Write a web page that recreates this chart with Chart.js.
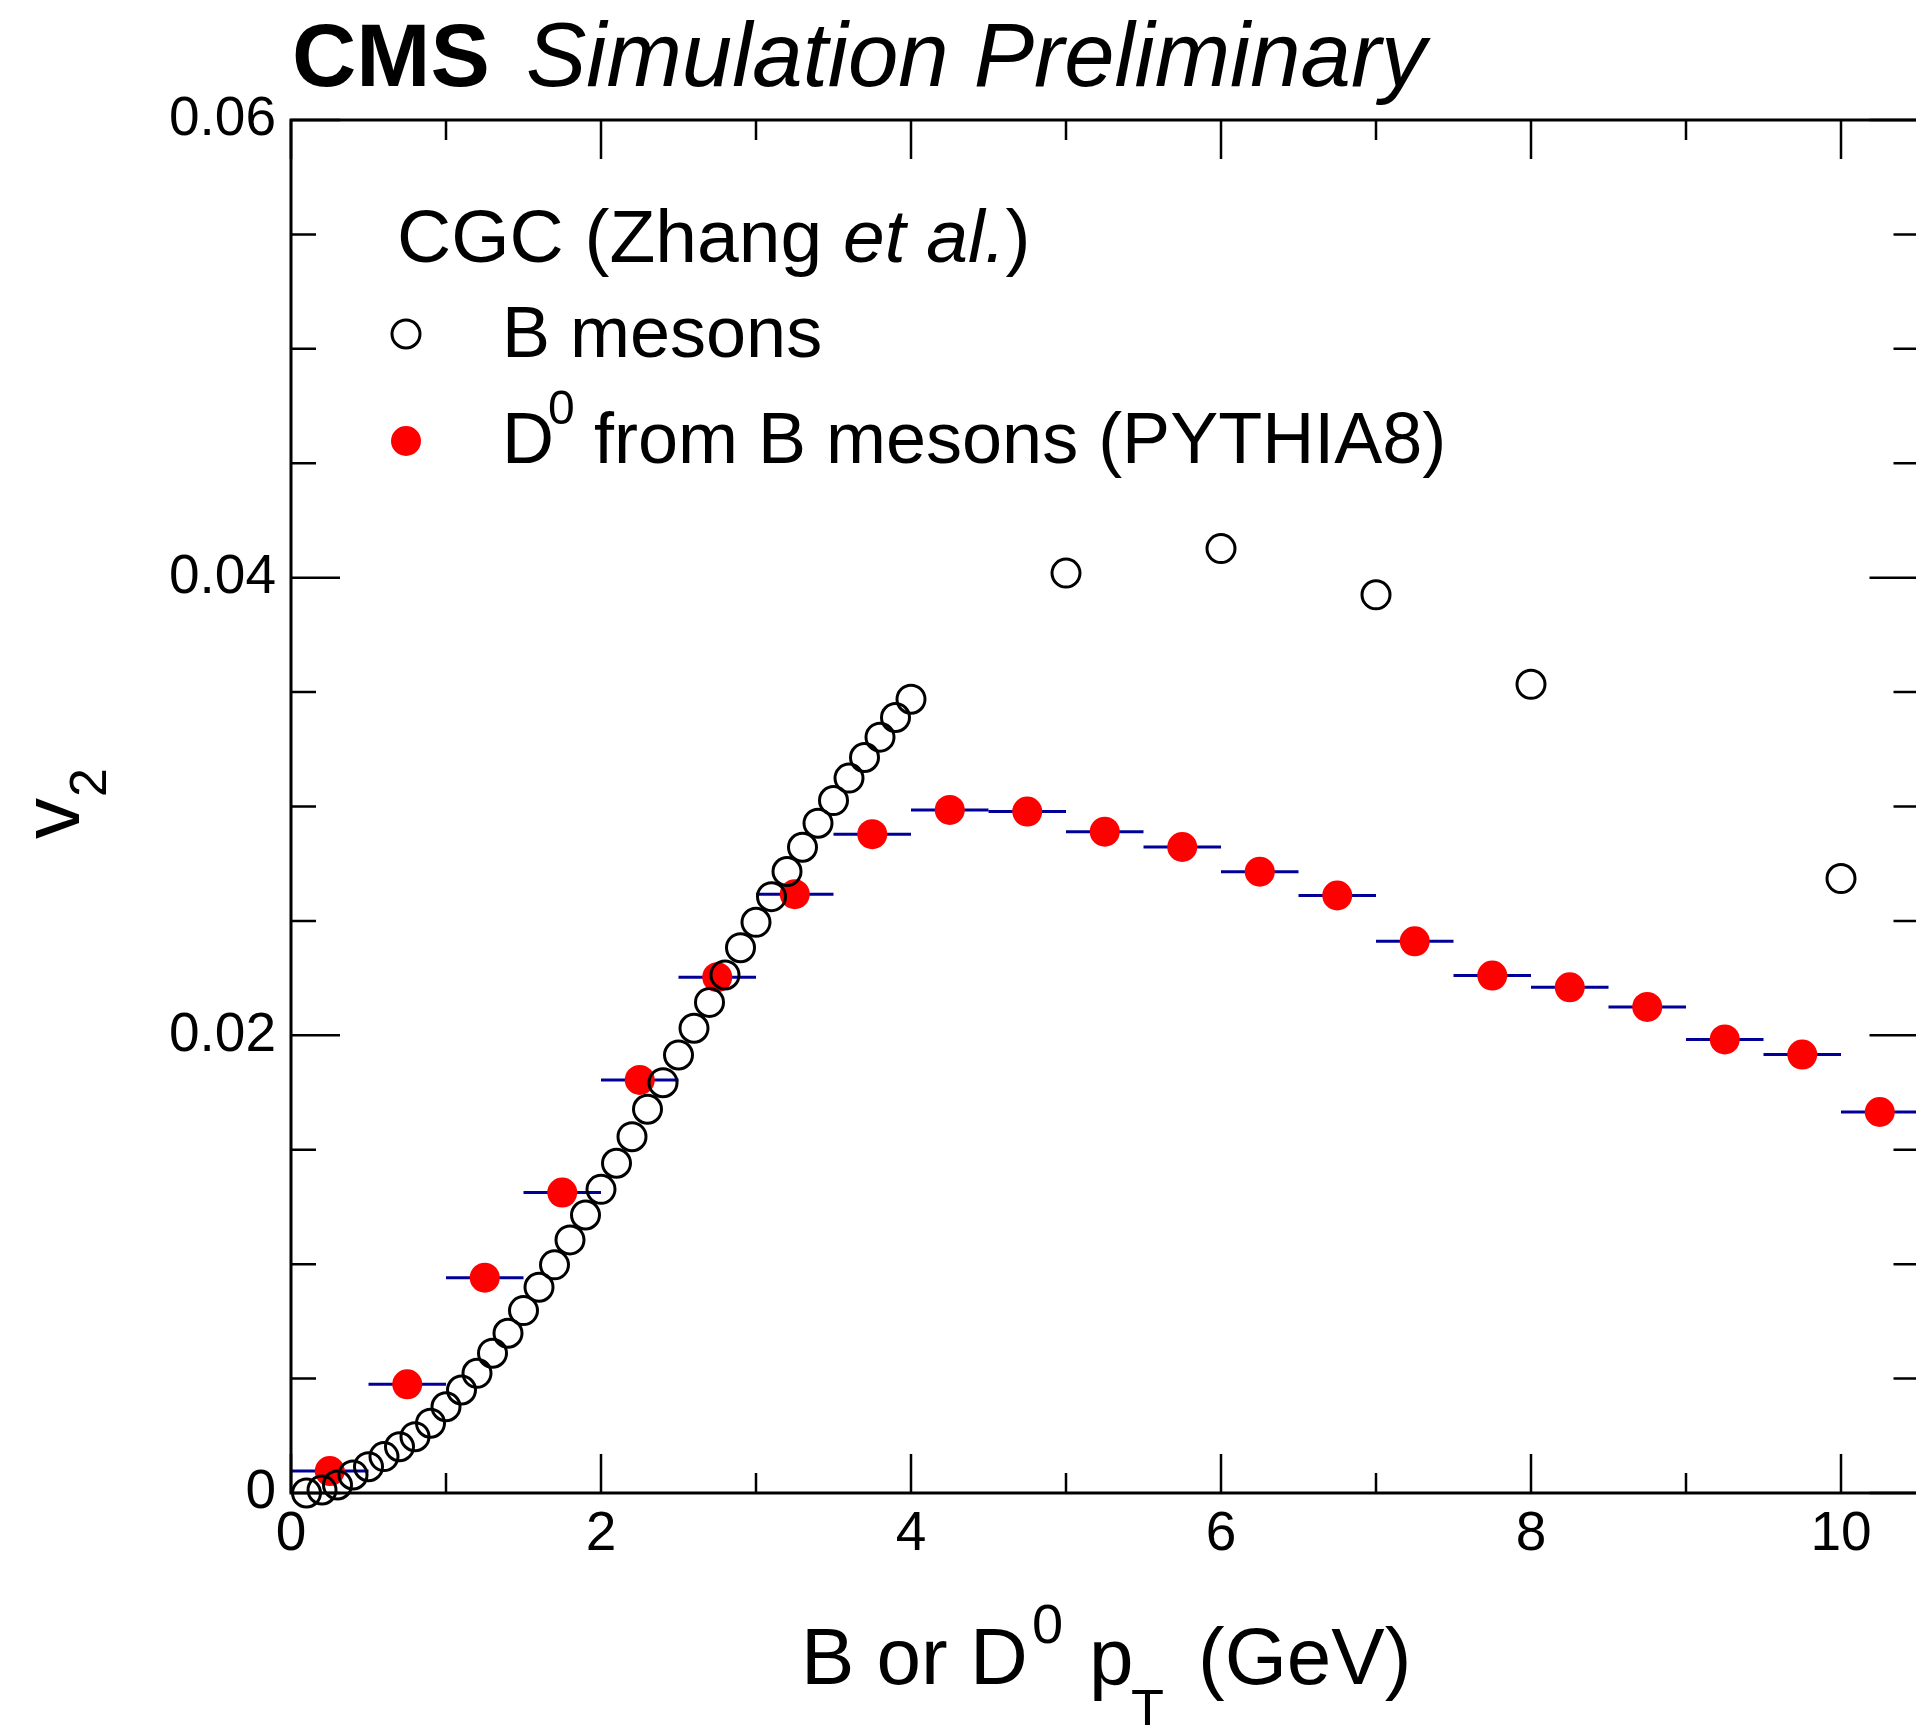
<!DOCTYPE html>
<html>
<head>
<meta charset="utf-8">
<title>B meson v2</title>
<script src="https://cdn.jsdelivr.net/npm/chart.js@4.4.1/dist/chart.umd.min.js"></script>
<style>
  html, body { margin: 0; padding: 0; background: #fff; overflow: hidden; }
  canvas { display: block; }
</style>
</head>
<body>
<canvas id="v2Chart" width="1930" height="1725"></canvas>
<script>
// CGC calculation for B mesons (open circles)
var bPt = [0.1, 0.2, 0.3, 0.4, 0.5, 0.6, 0.7, 0.8, 0.9, 1.0,
           1.1, 1.2, 1.3, 1.4, 1.5, 1.6, 1.7, 1.8, 1.9, 2.0,
           2.1, 2.2, 2.3, 2.4, 2.5, 2.6, 2.7, 2.8, 2.9, 3.0,
           3.1, 3.2, 3.3, 3.4, 3.5, 3.6, 3.7, 3.8, 3.9, 4.0,
           5, 6, 7, 8, 10];
var bV2 = [0.00000, 0.00013, 0.00035, 0.00079, 0.00115, 0.00159, 0.00202, 0.00246, 0.00305, 0.00377,
           0.00450, 0.00523, 0.00611, 0.00698, 0.00797, 0.00899, 0.00997, 0.01106, 0.01215, 0.01327,
           0.01441, 0.01557, 0.01677, 0.01793, 0.01914, 0.02031, 0.02144, 0.02264, 0.02383, 0.02494,
           0.02606, 0.02716, 0.02822, 0.02927, 0.03026, 0.03124, 0.03214, 0.03303, 0.03389, 0.03469,
           0.04020, 0.04127, 0.03925, 0.03534, 0.02685];

// D0 from B decays, PYTHIA8 (filled circles, bin half-widths as x errors)
var dPt = [0.25, 0.75, 1.25, 1.75, 2.25, 2.75, 3.25, 3.75, 4.25, 4.75,
           5.25, 5.75, 6.25, 6.75, 7.25, 7.75, 8.25, 8.75, 9.25, 9.75, 10.25];
var dV2 = [0.00096, 0.00475, 0.00941, 0.01313, 0.01805, 0.02254, 0.02617, 0.02879, 0.02985, 0.02978,
           0.02890, 0.02823, 0.02715, 0.02611, 0.02411, 0.02261, 0.02210, 0.02124, 0.01982, 0.01916, 0.01665];
var dPtErr = [0.25, 0.25, 0.25, 0.25, 0.25, 0.25, 0.25, 0.25, 0.25, 0.25,
              0.25, 0.25, 0.25, 0.25, 0.25, 0.25, 0.25, 0.25, 0.25, 0.25, 0.25];

// axis labels
var xTickValues = [0, 2, 4, 6, 8, 10];
var xTickLabels = ['0', '2', '4', '6', '8', '10'];
var yTickValues = [0, 0.02, 0.04, 0.06];
var yTickLabels = ['0', '0.02', '0.04', '0.06'];

var FAMILY = '"Liberation Sans", Arial, Helvetica, sans-serif';
function font(style, size) {
    return style + ' ' + size + 'px ' + FAMILY;
}

function toPoints(xs, ys) {
    return xs.map(function (x, i) { return { x: x, y: ys[i] }; });
}

// horizontal bars for the D0 bin widths, drawn under the markers
var errorBars = {
    id: 'errorBars',
    beforeDatasetsDraw: function (chart) {
        var ctx = chart.ctx, xs = chart.scales.x, ys = chart.scales.y;
        ctx.save();
        ctx.strokeStyle = '#000099';
        ctx.lineWidth = 3;
        dPt.forEach(function (pt, i) {
            var y = ys.getPixelForValue(dV2[i]);
            ctx.beginPath();
            ctx.moveTo(xs.getPixelForValue(pt - dPtErr[i]), y);
            ctx.lineTo(xs.getPixelForValue(pt + dPtErr[i]), y);
            ctx.stroke();
        });
        ctx.restore();
    }
};

// closed frame with inward ticks on all four sides
var frame = {
    id: 'frame',
    afterDatasetsDraw: function (chart) {
        var ctx = chart.ctx, a = chart.chartArea;
        var xs = chart.scales.x, ys = chart.scales.y;
        ctx.save();
        ctx.strokeStyle = '#000';
        ctx.lineWidth = 2.5;
        ctx.beginPath();
        for (var v = 0; v <= 10; v++) {
            var px = xs.getPixelForValue(v);
            var len = v % 2 === 0 ? 39 : 20;
            ctx.moveTo(px, a.bottom); ctx.lineTo(px, a.bottom - len);
            ctx.moveTo(px, a.top); ctx.lineTo(px, a.top + len);
        }
        for (var k = 0; k <= 12; k++) {
            var py = ys.getPixelForValue(k * 0.005);
            var l = k % 4 === 0 ? 49 : 25;
            ctx.moveTo(a.left, py); ctx.lineTo(a.left + l, py);
            ctx.moveTo(a.right, py); ctx.lineTo(a.right - l, py);
        }
        ctx.stroke();
        ctx.lineWidth = 3;
        ctx.strokeRect(a.left, a.top, a.right - a.left, a.bottom - a.top);
        ctx.restore();
    }
};

// header, legend block and axis titles (need super/subscripts)
var annotations = {
    id: 'annotations',
    afterDraw: function (chart) {
        var ctx = chart.ctx;
        ctx.save();
        ctx.fillStyle = '#000';
        ctx.textAlign = 'left';
        ctx.textBaseline = 'alphabetic';

        ctx.font = font('normal bold', 89);
        ctx.fillText('CMS', 292, 86);
        ctx.font = font('italic normal', 90.5);
        ctx.fillText('Simulation Preliminary', 526, 86);

        // legend
        var x = 397;
        ctx.font = font('normal normal', 75);
        ctx.fillText('CGC (Zhang ', x, 262);
        x += ctx.measureText('CGC (Zhang ').width;
        ctx.font = font('italic normal', 75);
        ctx.fillText('et al.', x, 262);
        x += ctx.measureText('et al.').width;
        ctx.font = font('normal normal', 75);
        ctx.fillText(')', x, 262);

        ctx.font = font('normal normal', 72);
        ctx.lineWidth = 3;
        ctx.strokeStyle = '#000';
        ctx.beginPath();
        ctx.arc(406, 334, 14, 0, Math.PI * 2);
        ctx.stroke();
        ctx.fillText('B mesons', 502, 357);

        ctx.fillStyle = '#ff0000';
        ctx.beginPath();
        ctx.arc(406, 441, 15, 0, Math.PI * 2);
        ctx.fill();
        ctx.fillStyle = '#000';
        ctx.fillText('D', 502, 463);
        ctx.font = font('normal normal', 48);
        ctx.fillText('0', 548, 424);
        ctx.font = font('normal normal', 72);
        ctx.fillText('from B mesons (PYTHIA8)', 594, 463);

        // x axis title
        ctx.font = font('normal normal', 80);
        ctx.fillText('B or D', 801, 1684);
        ctx.font = font('normal normal', 56);
        ctx.fillText('0', 1032, 1643);
        ctx.font = font('normal normal', 80);
        ctx.fillText('p', 1089, 1684);
        ctx.font = font('normal normal', 54);
        ctx.fillText('T', 1131, 1727);
        ctx.font = font('normal normal', 80);
        ctx.fillText('(GeV)', 1198, 1684);

        // y axis title, rotated
        ctx.translate(79, 839);
        ctx.rotate(-Math.PI / 2);
        ctx.font = font('normal normal', 82);
        ctx.fillText('v', 0, 0);
        ctx.font = font('normal normal', 52);
        ctx.fillText('2', 42, 27);
        ctx.restore();
    }
};

var tickFont = { family: FAMILY, size: 55 };

new Chart(document.getElementById('v2Chart').getContext('2d'), {
    type: 'scatter',
    data: {
        datasets: [{
            label: 'B mesons',
            data: toPoints(bPt, bV2),
            pointStyle: 'circle',
            pointRadius: 14,
            pointBorderWidth: 3,
            borderColor: '#000000',
            backgroundColor: 'rgba(0,0,0,0)',
            order: 0,
            clip: false
        }, {
            label: 'D0 from B mesons (PYTHIA8)',
            data: toPoints(dPt, dV2),
            pointStyle: 'circle',
            pointRadius: 15,
            pointBorderWidth: 0,
            borderColor: '#ff0000',
            backgroundColor: '#ff0000',
            order: 1,
            clip: false
        }]
    },
    options: {
        responsive: false,
        animation: false,
        devicePixelRatio: 1,
        events: [],
        layout: {
            autoPadding: false,
            padding: { top: 120, right: 11.5, left: 0, bottom: 0 }
        },
        plugins: {
            legend: { display: false },
            tooltip: { enabled: false }
        },
        scales: {
            x: {
                type: 'linear',
                min: 0,
                max: 10.5,
                afterFit: function (scale) { scale.height = 232; },
                grid: { display: false, drawTicks: false },
                border: { display: false },
                ticks: {
                    stepSize: 1,
                    includeBounds: false,
                    autoSkip: false,
                    maxRotation: 0,
                    padding: 9,
                    color: '#000',
                    font: tickFont,
                    callback: function (value) {
                        var i = xTickValues.indexOf(value);
                        return i >= 0 ? xTickLabels[i] : '';
                    }
                }
            },
            y: {
                type: 'linear',
                min: 0,
                max: 0.06,
                afterFit: function (scale) { scale.width = 291; },
                grid: { display: false, drawTicks: false },
                border: { display: false },
                ticks: {
                    stepSize: 0.02,
                    padding: 15,
                    color: '#000',
                    font: tickFont,
                    callback: function (value) {
                        for (var i = 0; i < yTickValues.length; i++) {
                            if (Math.abs(yTickValues[i] - value) < 1e-9) return yTickLabels[i];
                        }
                        return '';
                    }
                }
            }
        }
    },
    plugins: [errorBars, frame, annotations]
});
</script>
</body>
</html>
